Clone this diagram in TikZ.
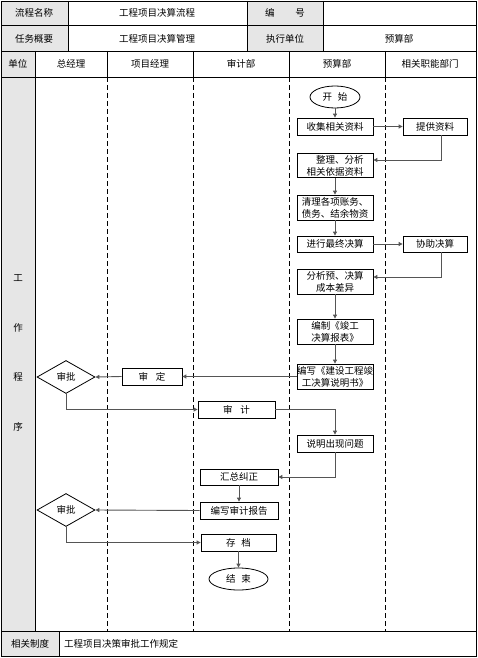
\documentclass[tikz,border=0pt]{standalone}
\usepackage{fontspec}
\setmainfont{Noto Sans CJK SC}
\usetikzlibrary{shapes.geometric,arrows.meta}
\definecolor{cellgray}{HTML}{E6E6E6}
\definecolor{linegray}{HTML}{555555}
\begin{document}
\begin{tikzpicture}[x=1pt,y=-1pt,
  txt/.style={inner sep=0pt,font=\fontsize{9.5}{11}\selectfont},
  stepbox/.style={draw,line width=0.8pt,fill=white,inner sep=0pt,align=center,
    font=\fontsize{9.5}{12}\selectfont},
  roundbox/.style={draw,ellipse,line width=0.8pt,fill=white,inner sep=0pt,
    font=\fontsize{9.5}{11}\selectfont},
  decide/.style={draw,diamond,aspect=1.75,line width=0.8pt,fill=white,inner sep=0pt,
    minimum width=58pt,minimum height=33pt,font=\fontsize{9.5}{11}\selectfont},
  conn/.style={draw=linegray,line width=0.9pt,-{Triangle[length=4pt,width=4pt]}},
  swim/.style={line width=0.8pt,dash pattern=on 5pt off 3pt}
]
\useasboundingbox (0,0) rectangle (478,658);
% gray cells
\fill[cellgray] (1,1) rectangle (68,51);
\fill[cellgray] (247,1) rectangle (323,51);
\fill[cellgray] (1,51) rectangle (35,631);
\fill[cellgray] (1,631) rectangle (59,656);
% table lines
\draw[line width=0.9pt] (1,1) rectangle (476,656);
\draw[line width=0.8pt] (1,25.5) -- (476,25.5);
\draw[line width=0.8pt] (1,51) -- (476,51);
\draw[line width=0.8pt] (1,77) -- (476,77);
\draw[line width=0.8pt] (1,631) -- (476,631);
\foreach \xx in {68,247,323} \draw[line width=0.8pt] (\xx,1) -- (\xx,51);
\draw[line width=0.8pt] (35,51) -- (35,631);
\foreach \xx in {107,193,289,385} {
  \draw[line width=0.8pt] (\xx,51) -- (\xx,77);
  \draw[swim] (\xx,77) -- (\xx,631);
}
\draw[line width=0.8pt] (59,631) -- (59,656);
% header texts
\node[txt] (h1) at (34,13) {流程名称};
\node[txt] (h2) at (157,13) {工程项目决算流程};
\node[txt] (h3) at (285,13) {编\hspace{2.2em}号};
\node[txt] (h4) at (34,38.5) {任务概要};
\node[txt] (h5) at (157,38.5) {工程项目决算管理};
\node[txt] (h6) at (285,38.5) {执行单位};
\node[txt] (h7) at (399,38.5) {预算部};
\node[txt] (u0) at (18,64) {单位};
\node[txt] (u1) at (71,64) {总经理};
\node[txt] (u2) at (150,64) {项目经理};
\node[txt] (u3) at (241,64) {审计部};
\node[txt] (u4) at (337,64) {预算部};
\node[txt] (u5) at (430,64) {相关职能部门};
\node[txt] (g1) at (18,278) {工};
\node[txt] (g2) at (18,328) {作};
\node[txt] (g3) at (18,377) {程};
\node[txt] (g4) at (18,427) {序};
\node[txt] (f1) at (30,644) {相关制度};
\node[txt,anchor=west] (f2) at (64,644) {工程项目决策审批工作规定};
% flow nodes
\node[roundbox,minimum width=50pt,minimum height=22pt] (start) at (335,97) {开\hspace{0.6em}始};
\node[stepbox,minimum width=76pt,minimum height=17pt] (c1) at (335,126.5) {收集相关资料};
\node[stepbox,minimum width=64pt,minimum height=17pt] (p1) at (435,126.5) {提供资料};
\node[stepbox,minimum width=76pt,minimum height=24pt] (c2) at (335,165.5) {\hspace{1em}整理、分析\\相关依据资料};
\node[stepbox,minimum width=76pt,minimum height=25pt] (c3) at (335,207.5) {清理各项账务、\\债务、结余物资};
\node[stepbox,minimum width=76pt,minimum height=16pt] (c4) at (335,244) {进行最终决算};
\node[stepbox,minimum width=64pt,minimum height=16pt] (p2) at (435,244) {协助决算};
\node[stepbox,minimum width=76pt,minimum height=25pt] (c5) at (335,281.5) {分析预、决算\\成本差异};
\node[stepbox,minimum width=76pt,minimum height=25pt] (c6) at (335,331.5) {编制《竣工\\决算报表》};
\node[stepbox,minimum width=76pt,minimum height=25pt] (c7) at (335,376.5) {编写《建设工程竣\\工决算说明书》};
\node[stepbox,minimum width=60pt,minimum height=17pt] (s1) at (152,376.5) {审\hspace{0.8em}定};
\node[decide] (d1) at (66,377) {审批};
\node[stepbox,minimum width=77pt,minimum height=17pt] (a1) at (236.5,409.5) {审\hspace{0.8em}计};
\node[stepbox,minimum width=76pt,minimum height=17pt] (c8) at (335,443.5) {说明出现问题};
\node[stepbox,minimum width=78pt,minimum height=16pt] (a2) at (239,477) {汇总纠正};
\node[stepbox,minimum width=78pt,minimum height=17pt] (a3) at (239,510.5) {编写审计报告};
\node[decide] (d2) at (66,510) {审批};
\node[stepbox,minimum width=75pt,minimum height=17pt] (a4) at (238.5,542.5) {存\hspace{0.6em}档};
\node[roundbox,minimum width=59pt,minimum height=22pt] (end) at (238.5,579) {结\hspace{0.6em}束};
% connectors
\draw[conn] (start) -- (c1);
\draw[conn] (c1) -- (p1);
\draw[conn] ([xshift=6pt]p1.south) |- ([yshift=5.5pt]c2.east);
\draw[conn] (c2) -- (c3);
\draw[conn] (c3) -- (c4);
\draw[conn] (c4) -- (p2);
\draw[conn] ([xshift=6pt]p2.south) |- ([yshift=4.5pt]c5.east);
\draw[conn] (c5) -- (c6);
\draw[conn] (c6) -- (c7);
\draw[conn] (c7.west) -- (s1.east);
\draw[conn] (s1.west) -- (d1.east);
\draw[conn] (d1.south) |- (a1.west);
\draw[conn] (a1.east) -| (c8.north);
\draw[conn] (c8.south) |- (a2.east);
\draw[conn] (a2) -- (a3);
\draw[conn] (a3.west) -- (d2.east);
\draw[conn] (d2.south) |- (a4.west);
\draw[conn] (a4) -- (end);
\end{tikzpicture}
\end{document}
